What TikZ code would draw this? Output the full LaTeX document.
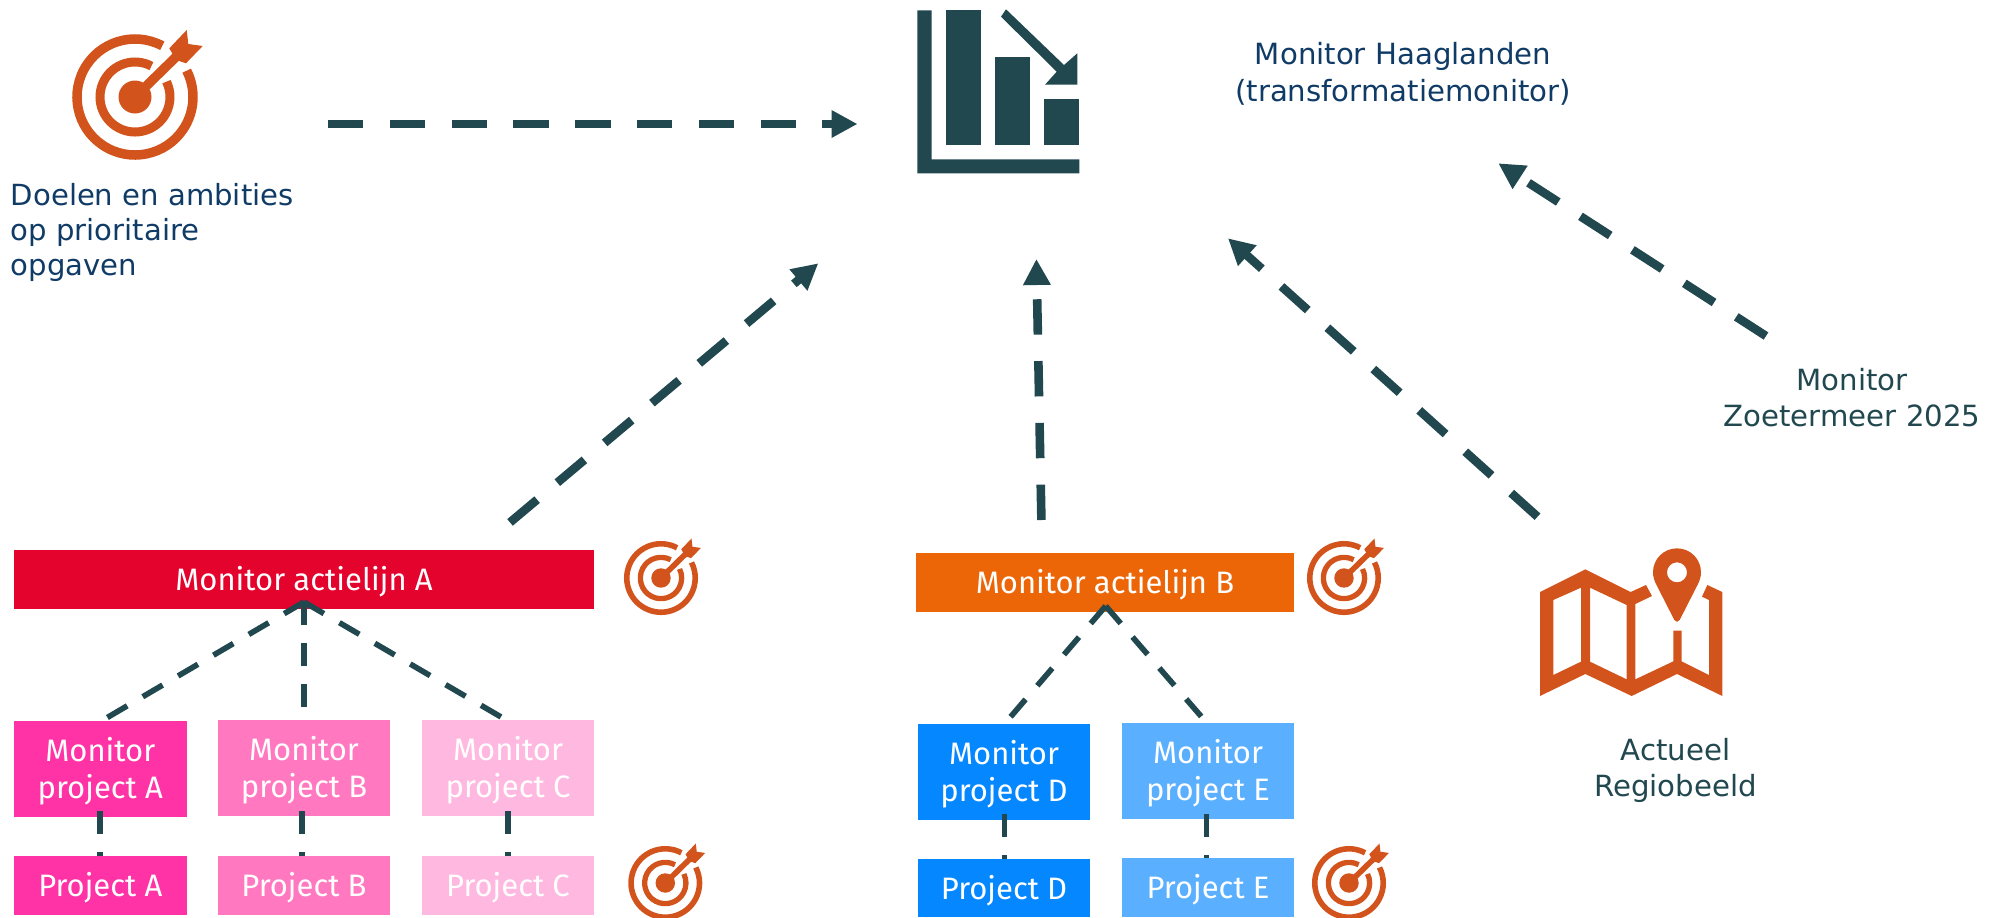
\documentclass[tikz,border=0pt]{standalone}
\usepackage{fontspec}
\setmainfont{DejaVu Sans}
\newfontfamily\firafont{Fira Sans}
\definecolor{iconor}{HTML}{D2541C}
\definecolor{teal}{HTML}{21474F}
\definecolor{navy}{HTML}{0F3B66}
\definecolor{redA}{HTML}{E4032C}
\definecolor{orB}{HTML}{EC6608}
\definecolor{pkA}{HTML}{FF32A6}
\definecolor{pkB}{HTML}{FF78C0}
\definecolor{pkC}{HTML}{FFB8E0}
\definecolor{blD}{HTML}{0587FF}
\definecolor{blE}{HTML}{5AAFFF}
\pgfdeclarelayer{front}
\pgfsetlayers{main,front}
\usetikzlibrary{arrows.meta}
\newcommand{\topgap}{\rule{0pt}{14.3pt}}
\tikzset{
  cbox/.style n args={3}{draw=none,fill=#3,text=white,inner sep=0pt,align=center,
     minimum width=#1*0.5pt,minimum height=#2*0.5pt,
     font=\firafont\fontsize{15.5}{18.5}\selectfont},
  biglink/.style={draw=teal,line width=4.3pt,dash pattern=on 17.7pt off 13.2pt,-{Triangle[length=13pt,width=13pt]}},
  smalllink/.style={draw=teal,line width=2.8pt,dash pattern=on 11.5pt off 9pt},
  navytxt/.style={text=navy,inner sep=0pt,font=\fontsize{14.6}{18.5}\selectfont},
  goaltxt/.style={text=navy,inner sep=0pt,font=\fontsize{14.55}{17.4}\selectfont},
  tealtxt/.style={text=teal,inner sep=0pt,font=\fontsize{14.6}{18}\selectfont,align=center},
}
\newcommand{\targeticon}[3]{%
  \begin{scope}[shift={(#1,#2)},x=#3*0.5pt,y=#3*0.5pt]
    \draw[iconor,line width=#3*4.75pt] (62:58) arc (62:387:58);
    \draw[iconor,line width=#3*4.5pt] (62:35) arc (62:386:35);
    \fill[iconor] (0,0) circle (16.5);
    \draw[iconor,line width=#3*4.75pt] (0,0) -- (44,43);
    \fill[iconor] (34.3,48.7) -- (51.7,67) -- (53.3,53) -- (67.7,51) -- (51,33.7) -- (41,37) -- cycle;
  \end{scope}}
\begin{document}
\begin{tikzpicture}[x=0.5pt,y=-0.5pt]
\useasboundingbox (0,0) rectangle (2003,917);
% target icons
\targeticon{135}{97}{1}
\targeticon{661}{578}{0.59}
\targeticon{665.3}{883}{0.59}
\targeticon{1344}{578}{0.59}
\targeticon{1349}{883}{0.59}
% chart icon
\fill[teal] (917.3,10.3) -- (931.7,10.3) -- (931.7,159.3) -- (1079.3,159.3) -- (1079.3,173.3) -- (917.3,173.3) -- cycle;
\fill[teal] (945.7,10.3) rectangle (980.7,145.3);
\fill[teal] (995,57.3) rectangle (1030,145.3);
\fill[teal] (1044,99) rectangle (1079.3,145.3);
\fill[teal] (1006,9.3) -- (1064,65) -- (1077.3,53.3) -- (1077.3,84.7) -- (1045,84.7) -- (1056.7,71.7) -- (1001,16.7) -- cycle;
% map icon
\begin{scope}[shift={(1500,520)},x=0.5pt/3,y=-0.5pt/3]
\fill[iconor,even odd rule] (120,216) -- (256,148) -- (392,216) -- (438,195) -- (456,228) -- (406,252) -- (406,478) -- (520,424) -- (520,332) -- (545,332) -- (545,424) -- (627,465) -- (627,240) -- (606,230) -- (622,195) -- (667,216) -- (667,528) -- (531,462) -- (395,528) -- (256,462) -- (120,528) -- cycle
 (160,240) -- (243,203) -- (243,425) -- (160,465) -- cycle
 (270,203) -- (380,255) -- (380,478) -- (270,425) -- cycle;
\fill[iconor,even odd rule] (531,85) .. controls (491,85) and (459,117) .. (459,157) .. controls (459,170) and (463,182) .. (468,192) -- (523,300) .. controls (527,307) and (535,307) .. (539,300) -- (594,192) .. controls (599,182) and (603,170) .. (603,157) .. controls (603,117) and (571,85) .. (531,85) -- cycle (531,157) circle (30);
\end{scope}
% labels
\node[goaltxt,align=left,anchor=north west] (goal) at (10.5,183) {Doelen en ambities\\op prioritaire\\opgaven};
\node[navytxt,align=center] (hl) at (1403,74) {Monitor Haaglanden\\(transformatiemonitor)};
\node[tealtxt] (zm) at (1852,398) {Monitor\\Zoetermeer 2025};
\node[tealtxt] (rb) at (1675.5,770) {Actueel\\Regiobeeld};
% project boxes (in front of the connectors)
\begin{pgfonlayer}{front}
\node[cbox={173}{59}{pkA}] (pA) at (100.3,885.5) {\topgap Project A};
\node[cbox={172}{59}{pkB}] (pB) at (304,885.5) {\topgap Project B};
\node[cbox={172}{59}{pkC}] (pC) at (508,885.5) {\topgap Project C};
\node[cbox={172}{58}{blD}] (pD) at (1004,888) {\topgap Project D};
\node[cbox={172}{59}{blE}] (pE) at (1208,887.5) {\topgap Project E};
\end{pgfonlayer}
% monitor boxes
\node[cbox={580}{59}{redA}] (actA) at (304,579.5) {\topgap Monitor actielijn A};
\node[cbox={378}{59}{orB}] (actB) at (1105,582.5) {\topgap Monitor actielijn B};
\node[cbox={173}{96}{pkA}] (mA) at (100.3,769) {\topgap Monitor\\project A};
\node[cbox={172}{96}{pkB}] (mB) at (304,768) {\topgap Monitor\\project B};
\node[cbox={172}{96}{pkC}] (mC) at (508,768) {\topgap Monitor\\project C};
\node[cbox={172}{96}{blD}] (mD) at (1004,772) {\topgap Monitor\\project D};
\node[cbox={172}{96}{blE}] (mE) at (1208,771) {\topgap Monitor\\project E};
% connector anchor points
\coordinate (apexA) at (304,602);
\coordinate (apexB) at (1105.7,606);
\coordinate (tA) at (106.5,718);
\coordinate (tB) at (304,708);
\coordinate (tC) at (502.8,718);
\coordinate (tD) at (1010,717.5);
\coordinate (tE) at (1201.7,717);
\coordinate (sA) at (100,811);
\coordinate (sB) at (302,811);
\coordinate (sC) at (507.8,811);
\coordinate (sD) at (1004.3,814);
\coordinate (sE) at (1206.3,814);
\coordinate (eA) at (100,856);
\coordinate (eB) at (302,856);
\coordinate (eC) at (507.8,856);
\coordinate (eD) at (1004.3,859);
\coordinate (eE) at (1206.3,858);
\draw[smalllink] (apexA) -- (tA);
\draw[smalllink] (apexA) -- (tB);
\draw[smalllink] (apexA) -- (tC);
\draw[smalllink] (apexB) -- (tD);
\draw[smalllink] (apexB) -- (tE);
\draw[smalllink] (sA) -- (eA);
\draw[smalllink] (sB) -- (eB);
\draw[smalllink] (sC) -- (eC);
\draw[smalllink] (sD) -- (eD);
\draw[smalllink] (sE) -- (eE);
% big arrows
\coordinate (a1s) at (328,124);
\coordinate (a1e) at (857.5,124);
\coordinate (a2s) at (510,522.4);
\coordinate (a2e) at (818.3,263.3);
\coordinate (a3s) at (1041.4,520);
\coordinate (a3e) at (1036.4,259);
\coordinate (a4s) at (1537.5,516.7);
\coordinate (a4e) at (1228,238.3);
\coordinate (a5s) at (1766,336);
\coordinate (a5e) at (1498.3,163.3);
\draw[biglink] (a1s) -- (a1e);
\draw[biglink] (a2s) -- (a2e);
\draw[biglink] (a3s) -- (a3e);
\draw[biglink] (a4s) -- (a4e);
\draw[biglink] (a5s) -- (a5e);
\end{tikzpicture}
\end{document}
